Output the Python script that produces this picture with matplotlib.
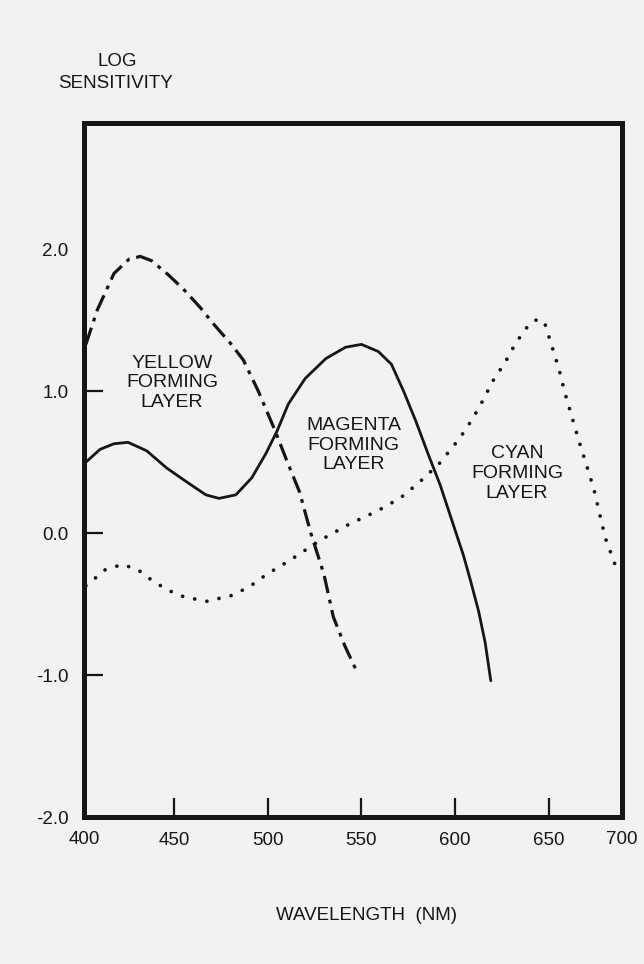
import matplotlib
matplotlib.use('Agg')
import matplotlib.pyplot as plt

# spectral sensitivity of the three emulsion layers
yellow_wl = [403, 409, 418, 426, 432, 438, 447, 455, 464, 472, 480, 487, 495, 504, 510.5, 517, 523, 530, 535,
             541, 547]
yellow = [1.33, 1.57, 1.83, 1.93, 1.95, 1.92, 1.82, 1.72, 1.59, 1.46, 1.34, 1.22, 1.00, 0.72, 0.50, 0.29, 0.0,
          -0.29, -0.59, -0.79, -0.96]

magenta_wl = [403, 410.5, 418, 425.5, 435.5, 446, 458, 467, 474, 483, 491.5, 499, 505, 511, 520, 531, 541.5,
              550, 559, 566, 572.5, 579, 585.5, 592, 600, 604.5, 608.5, 612.5, 616, 619]
magenta = [0.50, 0.59, 0.63, 0.64, 0.58, 0.46, 0.35, 0.27, 0.245, 0.27, 0.39, 0.56, 0.72, 0.91, 1.09, 1.23, 1.31,
           1.33, 1.28, 1.19, 1.00, 0.79, 0.56, 0.34, 0.02, -0.16, -0.35, -0.55, -0.77, -1.04]

cyan_wl = [403, 406, 413, 422.5, 431, 438, 446.5, 455.5, 467.5, 480.5, 490, 499.5, 512, 528, 543, 559, 571,
           581, 591.5, 602.5, 609.5, 615, 620, 626.5, 631.5, 637, 641, 645, 648, 652, 655.5, 658.5, 662.5, 666,
           670.5, 674, 680, 682.5, 685, 686.5]
cyan = [-0.37, -0.34, -0.26, -0.22, -0.26, -0.33, -0.40, -0.45, -0.48, -0.44, -0.38, -0.29, -0.19, -0.05,
        0.06, 0.16, 0.25, 0.36, 0.49, 0.67, 0.81, 0.94, 1.07, 1.20, 1.32, 1.43, 1.49, 1.51, 1.47, 1.30, 1.15,
        0.99, 0.81, 0.65, 0.46, 0.31, -0.03, -0.12, -0.21, -0.29]

y_ticks = [-2.0, -1.0, 0.0, 1.0, 2.0]
x_ticks = [450, 500, 550, 600, 650]

ink = '#161616'
paper = '#f2f2f0'
plt.rcParams['font.family'] = ['Liberation Sans', 'DejaVu Sans']

fig = plt.figure(figsize=(6.44, 9.64), dpi=100, facecolor=paper)
ax = fig.add_axes([84 / 644, 1 - 817 / 964, 538 / 644, 694 / 964])
ax.set_facecolor(paper)

ax.plot(magenta_wl, magenta, color=ink, lw=2.0, solid_capstyle='round', solid_joinstyle='round')
ax.plot(yellow_wl, yellow, color=ink, lw=2.3, ls=(0, (5.5, 2.1, 1.2, 2.1)), dash_capstyle='butt')
ax.plot(cyan_wl, cyan, color=ink, lw=2.7, ls=(0, (0.01, 3.3)), dash_capstyle='round')

ax.set_xlim(402, 689)
ax.set_ylim(-2.0, 2.89)

for s in ax.spines.values():
    s.set_linewidth(3.6)
    s.set_color(ink)

ax.set_xticks(x_ticks)
ax.set_xticklabels([str(v) for v in x_ticks])
ax.set_yticks(y_ticks)
ax.set_yticklabels(['%.1f' % v for v in y_ticks])
ax.tick_params(axis='both', direction='in', length=14, width=1.6, color=ink,
               labelsize=13.5, labelcolor=ink)
ax.tick_params(axis='x', pad=11)
ax.tick_params(axis='y', pad=11)
# no tick marks at the two ends of the y scale
for t in (ax.yaxis.get_major_ticks()[0], ax.yaxis.get_major_ticks()[-1]):
    t.tick1line.set_visible(False)

# end labels of the wavelength scale sit under the corners
ax.text(0.0, -0.033, '400', transform=ax.transAxes, ha='center', va='center', fontsize=13.5, color=ink)
ax.text(1.0, -0.033, '700', transform=ax.transAxes, ha='center', va='center', fontsize=13.5, color=ink)

lab = dict(ha='center', va='center', fontsize=14, color=ink, linespacing=1.2)
ax.text(449, 1.06, 'YELLOW\nFORMING\nLAYER', **lab)
ax.text(546, 0.62, 'MAGENTA\nFORMING\nLAYER', **lab)
ax.text(633, 0.42, 'CYAN\nFORMING\nLAYER', **lab)

fig.text(117 / 644, 1 - 61 / 964, 'LOG', ha='center', va='center', fontsize=13.5, color=ink)
fig.text(115 / 644, 1 - 83 / 964, 'SENSITIVITY', ha='center', va='center', fontsize=13.5, color=ink)
fig.text(367 / 644, 1 - 915 / 964, 'WAVELENGTH  (NM)', ha='center', va='center', fontsize=13.5, color=ink)

fig.savefig('out.png', dpi=100, facecolor=paper)
